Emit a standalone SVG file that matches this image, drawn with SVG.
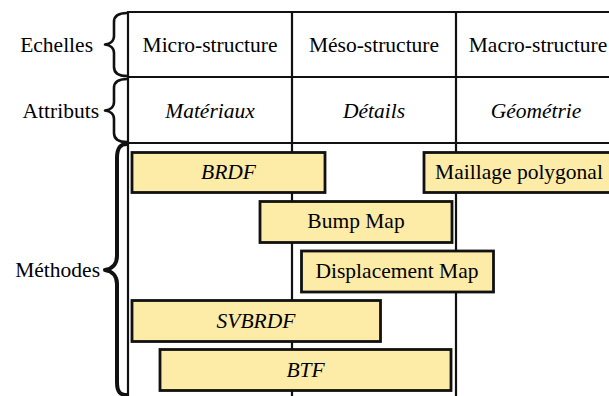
<svg xmlns="http://www.w3.org/2000/svg" width="609" height="396" viewBox="0 0 609 396" font-family="Liberation Serif, serif">
<style>
.t{font-family:"Liberation Serif",serif;font-size:21.5px;fill:#000;text-anchor:middle}
.i{font-style:italic}
.l{text-anchor:end}
.grid{stroke:#111;stroke-width:2.2;fill:none}
.brace{stroke:#111;fill:none;stroke-linecap:round;stroke-linejoin:round}
.box{fill:#fdeba8;stroke:#111;stroke-width:2.8}
</style>
<rect width="609" height="396" fill="#fff"/>
<g id="grid">
<line class="grid" x1="128" y1="12" x2="609" y2="12"/>
<line class="grid" x1="128" y1="77" x2="609" y2="77"/>
<line class="grid" x1="128" y1="143" x2="609" y2="143"/>
<line class="grid" x1="128" y1="11" x2="128" y2="396"/>
<line class="grid" x1="292" y1="12" x2="292" y2="396"/>
<line class="grid" x1="456" y1="12" x2="456" y2="396"/>
</g>
<g id="braces">
<path class="brace" stroke-width="2.6" d="M127,13 C119,13 114,15 114,22 L114,36 C114,41 110,44 105,44.5 C110,45 114,48 114,53 L114,67 C114,74 119,76 127,76"/>
<path class="brace" stroke-width="2.6" d="M127,79 C119,79 114,81 114,88 L114,102 C114,107 110,110 105,110.5 C110,111 114,114 114,119 L114,133 C114,140 119,142 127,142"/>
<path class="brace" stroke-width="4" d="M127,144 C120,144 117,148 117,158 L117,256 C117,264 112,269 105,270 C112,271 117,276 117,284 L117,382 C117,392 120,395 127,395"/>
</g>
<g id="row-labels">
<text class="t l" x="93" y="52">Echelles</text>
<text class="t l" x="99" y="118">Attributs</text>
<text class="t l" x="100" y="277">Méthodes</text>
</g>
<g id="header">
<text class="t" x="210" y="52">Micro-structure</text>
<text class="t" x="374" y="52">Méso-structure</text>
<text class="t" x="538" y="52">Macro-structure</text>
<text class="t i" x="210" y="118">Matériaux</text>
<text class="t i" x="374" y="118">Détails</text>
<text class="t i" x="536" y="118">Géométrie</text>
</g>
<g id="brdf"><rect class="box" x="132" y="152.5" width="193" height="40"/><text class="t i" x="228.5" y="179">BRDF</text></g>
<g id="maillage"><rect class="box" x="424" y="152.5" width="194" height="40"/><text class="t" x="519" y="179">Maillage polygonal</text></g>
<g id="bump"><rect class="box" x="260" y="201.5" width="192" height="41"/><text class="t" x="356" y="228">Bump Map</text></g>
<g id="displacement"><rect class="box" x="301.5" y="251" width="192" height="41"/><text class="t" x="397" y="278">Displacement Map</text></g>
<g id="svbrdf"><rect class="box" x="132" y="300.5" width="248.5" height="41"/><text class="t i" x="256" y="328">SVBRDF</text></g>
<g id="btf"><rect class="box" x="160" y="349.5" width="291" height="41"/><text class="t i" x="305.5" y="377">BTF</text></g>
</svg>
